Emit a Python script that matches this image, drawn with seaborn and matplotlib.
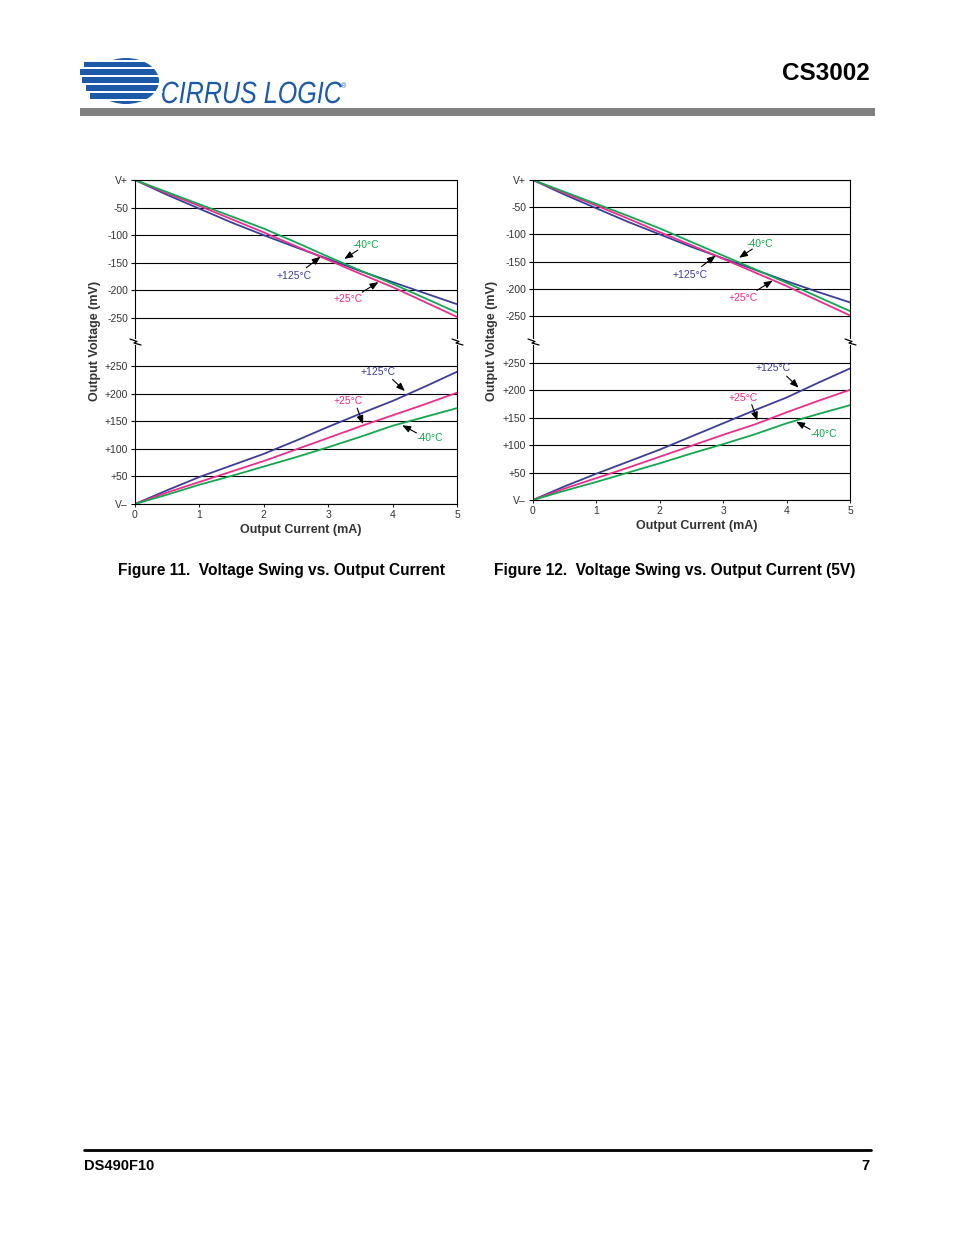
import numpy as np
import pandas as pd
import matplotlib
matplotlib.use("Agg")
import matplotlib.pyplot as plt
import seaborn as sns
from matplotlib.lines import Line2D
from matplotlib.patches import Ellipse, Rectangle, PathPatch
from matplotlib.textpath import TextPath
from matplotlib.font_manager import FontProperties
from matplotlib.transforms import Affine2D

# ---------------- data ----------------
current_ma = [0, 0.5, 1, 1.5, 2, 2.5, 3, 3.5, 4, 4.5, 5]
temps = ["+125°C", "+25°C", "-40°C"]

# Figure 11 (sourcing: drop from V+, mV) and (sinking: rise above V-, mV)
f11_high_125 = [0, -27, -52, -77, -100, -122, -143, -165, -185, -205, -225]
f11_high_25 = [0, -24, -47, -71, -95, -120, -145, -170, -194, -221, -248]
f11_high_m40 = [0, -22, -44, -66, -88, -113, -139, -164, -188, -214, -240]
f11_low_125 = [0, 25, 49, 70, 91, 115, 140, 164, 187, 213, 240]
f11_low_25 = [0, 21, 40, 59, 78, 99, 120, 141, 161, 181, 202]
f11_low_m40 = [0, 17, 35, 51, 68, 85, 103, 122, 142, 158, 174]

# Figure 12 (5V)
f12_high_125 = [0, -27, -52, -77, -100, -123, -144, -165, -186, -206, -225]
f12_high_25 = [0, -24, -47, -71, -96, -120, -145, -170, -195, -222, -249]
f12_high_m40 = [0, -22, -44, -66, -89, -114, -139, -164, -189, -215, -241]
f12_low_125 = [0, 25, 48, 70, 92, 116, 140, 164, 187, 214, 240]
f12_low_25 = [0, 21, 40, 59, 79, 99, 119, 138, 160, 181, 201]
f12_low_m40 = [0, 17, 33, 50, 67, 85, 102, 120, 140, 157, 173]

high_ticks = [0, -50, -100, -150, -200, -250]
high_labels = ["V+", "-50", "-100", "-150", "-200", "-250"]
low_ticks = [0, 50, 100, 150, 200, 250]
low_labels = ["V\u2013", "+50", "+100", "+150", "+200", "+250"]
x_ticks = [0, 1, 2, 3, 4, 5]

colors = {"+125°C": "#3d3d98", "+25°C": "#ea2f8a", "-40°C": "#14a64e"}


def frame(high, low):
    rows = []
    for t, hv, lv in zip(temps, high, low):
        for c, h, l in zip(current_ma, hv, lv):
            rows.append((t, c, h, l))
    return pd.DataFrame(rows, columns=["temp", "current", "high", "low"])


df11 = frame([f11_high_125, f11_high_25, f11_high_m40], [f11_low_125, f11_low_25, f11_low_m40])
df12 = frame([f12_high_125, f12_high_25, f12_high_m40], [f12_low_125, f12_low_25, f12_low_m40])

# ---------------- style ----------------
sns.set_style("white")
plt.rcParams["font.family"] = ["Liberation Sans", "DejaVu Sans"]

W, H = 954, 1235
fig = plt.figure(figsize=(W / 100, H / 100), dpi=100)


def fx(px):
    return px / W


def fy(py):
    return 1 - py / H


TXT = "#333333"


def make_chart(df, x0, x1, ytop, ybrk, ybot, hi_scale, lo_scale, ylabel_x, xlabel_y):
    # hi_scale / lo_scale: pixels per mV; the panels leave a small gap at the break
    gap_top, gap_bot = ybrk - 3, ybrk + 4
    ax_h = fig.add_axes([fx(x0), fy(gap_top), (x1 - x0) / W, (gap_top - ytop) / H])
    ax_l = fig.add_axes([fx(x0), fy(ybot), (x1 - x0) / W, (ybot - gap_bot) / H])
    hi_lim = -(gap_top - ytop) / hi_scale
    lo_lim = (ybot - gap_bot) / lo_scale
    for ax, col, lim, ticks, labels in [
        (ax_h, "high", (hi_lim, 0), high_ticks, high_labels),
        (ax_l, "low", (0, lo_lim), low_ticks, low_labels),
    ]:
        sns.lineplot(data=df, x="current", y=col, hue="temp", hue_order=temps,
                     palette=colors, legend=False, ax=ax, linewidth=1.3)
        ax.set_xlim(0, 5)
        ax.set_ylim(*lim)
        ax.set_yticks(ticks)
        ax.set_yticklabels(labels)
        ax.set_xticks(x_ticks)
        ax.set_xlabel("")
        ax.set_ylabel("")
        ax.yaxis.grid(True, color="black", linewidth=0.8)
        ax.xaxis.grid(False)
        ax.tick_params(axis="y", length=3, width=0.8, color="black", labelsize=7.5,
                       labelcolor=TXT, pad=2, left=True)
        for s in ax.spines.values():
            s.set_color("black")
            s.set_linewidth(0.8)
        ax.set_axisbelow(True)
    ax_h.spines["bottom"].set_visible(False)
    ax_h.tick_params(axis="x", bottom=False, labelbottom=False)
    ax_l.spines["top"].set_visible(False)
    ax_l.tick_params(axis="x", bottom=True, length=2, width=0.8, labelsize=7.5,
                     labelcolor=TXT, pad=2)

    # break marks (zigzag across each side spine)
    for xb in (x0, x1):
        pts_x = [xb - 5, xb + 2, xb - 1, xb + 6]
        pts_y = [ybrk - 2, ybrk + 0.5, ybrk + 2, ybrk + 4]
        fig.add_artist(Line2D([fx(p) for p in pts_x], [fy(p) for p in pts_y],
                              color="black", linewidth=0.9))

    fig.text(fx(ylabel_x), fy(ybrk), "Output Voltage (mV)", rotation=90,
             ha="center", va="center", fontsize=9, fontweight="bold", color=TXT)
    fig.text(fx((x0 + x1) / 2 + 5), fy(xlabel_y), "Output Current (mA)",
             ha="center", va="center", fontsize=9, fontweight="bold", color=TXT)

    arrow = dict(arrowstyle="-|>,head_length=0.5,head_width=0.2", color="black",
                 lw=0.8, shrinkA=0, shrinkB=0)
    fs = 7.5
    # top panel annotations
    ax_h.annotate("", xy=(3.25, -143), xytext=(3.46, -127), arrowprops=arrow)
    ax_h.text(3.58, -117, "-40°C", color=colors["-40°C"], fontsize=fs, ha="center", va="center")
    ax_h.annotate("", xy=(2.88, -139), xytext=(2.66, -159), arrowprops=arrow)
    ax_h.text(2.47, -174, "+125°C", color=colors["+125°C"], fontsize=fs, ha="center", va="center")
    ax_h.annotate("", xy=(3.78, -185), xytext=(3.53, -203), arrowprops=arrow)
    ax_h.text(3.31, -216, "+25°C", color=colors["+25°C"], fontsize=fs, ha="center", va="center")
    # bottom panel annotations
    ax_l.annotate("", xy=(4.19, 205), xytext=(4.0, 226), arrowprops=arrow)
    ax_l.text(3.78, 240, "+125°C", color=colors["+125°C"], fontsize=fs, ha="center", va="center")
    ax_l.annotate("", xy=(3.54, 145), xytext=(3.45, 174), arrowprops=arrow)
    ax_l.text(3.31, 187, "+25°C", color=colors["+25°C"], fontsize=fs, ha="center", va="center")
    ax_l.annotate("", xy=(4.15, 143), xytext=(4.37, 129), arrowprops=arrow)
    ax_l.text(4.58, 120, "-40°C", color=colors["-40°C"], fontsize=fs, ha="center", va="center")


make_chart(df11, 135, 457, 180, 341, 504, 0.552, 0.551, 95, 530)
make_chart(df12, 533, 850, 180, 341, 500, 0.544, 0.548, 492, 526)

# captions
fig.text(fx(281.5), fy(571), "Figure 11.  Voltage Swing vs. Output Current", ha="center",
         va="center", fontsize=11.2, fontweight="bold", color="black")
fig.text(fx(674.5), fy(571), "Figure 12.  Voltage Swing vs. Output Current (5V)", ha="center",
         va="center", fontsize=11.2, fontweight="bold", color="black")

# header
fig.add_artist(Rectangle((fx(80), fy(116)), (875 - 80) / W, 8 / H, transform=fig.transFigure,
                         facecolor="#7f7f7f", edgecolor="none"))
fig.text(fx(870), fy(74), "CS3002", ha="right", va="center", fontsize=17.5, fontweight="bold",
         color="black")
logo_blue = "#1c5aa8"
fig.add_artist(Ellipse((fx(126), fy(81)), 66 / W, 46 / H, transform=fig.transFigure,
                       facecolor=logo_blue, edgecolor="none"))
bar_specs = [(84, 64), (80, 72), (82, 80), (86, 88), (90, 96)]
for bx, by in bar_specs:
    fig.add_artist(Rectangle((fx(bx), fy(by + 3)), (126 - bx) / W, 6 / H,
                             transform=fig.transFigure, facecolor=logo_blue, edgecolor="none"))
for wy in [61, 68, 76, 84, 92, 100]:
    fig.add_artist(Line2D([fx(78), fx(162)], [fy(wy), fy(wy)], color="white", linewidth=1.4))

# logo wordmark, stretched to the reference's tall narrow proportions
tp = TextPath((0, 0), "CIRRUS LOGIC", size=1,
              prop=FontProperties(family="Liberation Sans", style="italic"))
ext = tp.get_extents()
sx = 180 / ext.width
sy = 22 / 0.716
logo_patch = PathPatch(tp, facecolor=logo_blue, edgecolor="none")
logo_patch.set_transform(Affine2D().translate(-ext.x0, 0).scale(sx, sy).translate(162, H - 103))
fig.add_artist(logo_patch)
fig.text(fx(344), fy(87), "®", ha="center", va="center", fontsize=5, color=logo_blue)

# footer
fig.add_artist(Line2D([fx(84), fx(871)], [fy(1150), fy(1150)], color="black", linewidth=2))
fig.text(fx(84), fy(1166), "DS490F10", ha="left", va="center", fontsize=10.5,
         fontweight="bold", color="black")
fig.text(fx(870), fy(1166), "7", ha="right", va="center", fontsize=10.5,
         fontweight="bold", color="black")

fig.savefig("out.png", dpi=100, facecolor="white")
